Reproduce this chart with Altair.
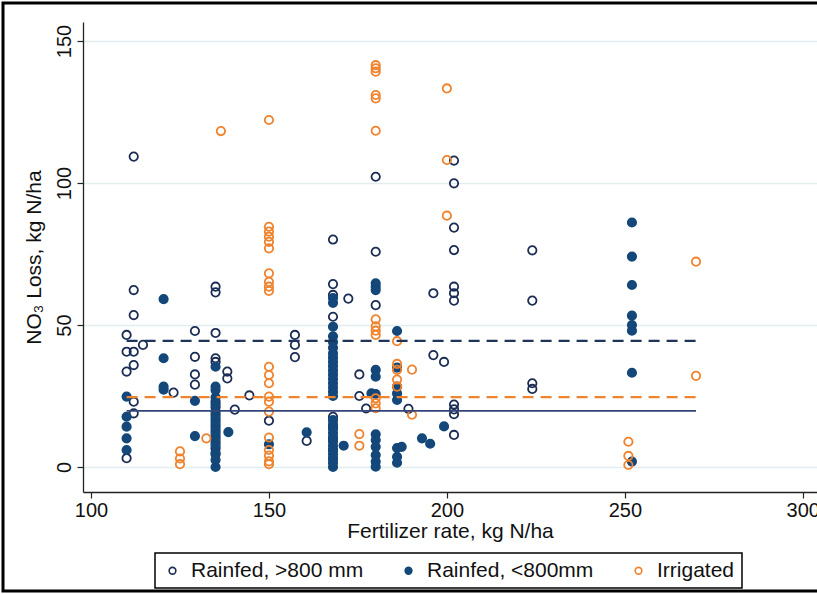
import altair as alt
import pandas as pd

# ---- data ----
rainfed_wet = [  # Rainfed, >800 mm (open navy)
    (110, 46.5), (110, 40.6), (110, 33.6), (110, 3.1),
    (112, 109.3), (112, 62.3), (112, 53.5), (112, 40.6), (112, 35.9), (112, 23.0), (112, 18.9),
    (114.6, 43.0), (123.2, 26.2),
    (129.2, 47.9), (129.2, 38.8), (129.2, 32.6), (129.2, 29.0),
    (135, 63.5), (135, 61.5), (135, 47.2), (135, 38.3), (135, 37.0), (135, 23.0), (135, 21.0),
    (135, 18.5), (135, 16.5), (135, 14.5), (135, 12.5), (135, 10.5), (135, 8.5), (135, 6.5), (135, 4.5),
    (138.3, 33.6), (138.3, 31.2), (140.4, 20.2), (144.5, 25.2), (150, 16.3),
    (157.3, 46.5), (157.3, 43.0), (157.3, 38.7), (160.6, 9.2),
    (168, 80.1), (168, 64.4), (168, 60.6), (168, 52.9), (168, 17.7), (168, 14.0), (168, 10.0), (168, 6.0), (168, 3.0),
    (172.3, 59.3), (175.4, 32.6), (175.4, 25.0), (177.3, 20.6),
    (180, 102.2), (180, 75.8), (180, 57.0), (189.2, 20.5),
    (196.2, 61.2), (196.2, 39.4), (199.2, 37.0),
    (202, 107.9), (202, 99.9), (202, 84.3), (202, 76.4), (202, 63.5), (202, 61.2), (202, 58.6),
    (202, 22.0), (202, 20.3), (202, 18.6), (202, 11.3),
    (224, 76.3), (224, 58.6), (224, 29.5), (224, 27.5),
]
rainfed_dry = [  # Rainfed, <800mm (filled navy)
    (110, 24.8), (110, 17.7), (110, 14.2), (110, 10.1), (110, 6.0),
    (120.4, 59.1), (120.4, 38.3), (120.4, 28.3), (120.4, 27.2),
    (129.2, 23.3), (129.2, 10.9),
    (135, 35.3), (135, 28.3), (135, 27.1), (135, 24.5), (135, 22.0), (135, 19.5), (135, 17.5),
    (135, 15.5), (135, 13.5), (135, 11.5), (135, 9.5), (135, 7.5), (135, 5.0), (135, 2.5), (135, 0.0),
    (138.6, 12.3), (150, 8.0), (160.6, 12.2),
    (168, 59.5), (168, 57.8), (168, 49.4), (168, 46.0), (168, 44.0), (168, 42.0), (168, 40.0),
    (168, 38.5), (168, 37.0), (168, 35.5), (168, 34.0), (168, 32.5), (168, 31.0), (168, 29.5),
    (168, 28.0), (168, 26.5), (168, 25.0), (168, 16.5), (168, 15.0), (168, 13.5), (168, 12.0),
    (168, 10.5), (168, 9.0), (168, 7.5), (168, 6.0), (168, 4.5), (168, 3.0), (168, 1.5), (168, 0.0),
    (171, 7.5), (178.8, 25.9),
    (180, 64.7), (180, 63.5), (180, 62.3), (180, 34.2), (180, 31.8), (180, 25.7),
    (180, 11.5), (180, 9.5), (180, 7.1), (180, 4.2), (180, 1.9), (180, 0.1),
    (186, 47.9), (186, 35.0), (186, 28.3), (186, 25.9), (186, 23.6), (186, 6.7), (186, 3.6), (186, 1.5),
    (187.3, 7.1), (193, 10.1), (195.3, 8.2), (199.2, 14.3),
    (252, 86.1), (252, 74.1), (252, 64.1), (252, 53.3), (252, 50.0), (252, 48.0), (252, 33.2), (252, 1.9),
]
irrigated = [  # Irrigated (open orange)
    (125, 5.5), (125, 3.0), (125, 1.0), (132.4, 10.1), (136.5, 118.3),
    (150, 122.2), (150, 84.6), (150, 82.9), (150, 81.1), (150, 79.3), (150, 77.0),
    (150, 68.2), (150, 65.2), (150, 63.5), (150, 62.0), (150, 35.3), (150, 32.4), (150, 29.5),
    (150, 24.8), (150, 23.0), (150, 19.5), (150, 10.4), (150, 6.0), (150, 4.0), (150, 2.0), (150, 1.0),
    (175.4, 11.6), (175.4, 7.5),
    (180, 141.5), (180, 140.4), (180, 139.2), (180, 131.0), (180, 129.8), (180, 118.4),
    (180, 52.0), (180, 49.5), (180, 48.0), (180, 46.5), (180, 24.2), (180, 22.4), (180, 20.7),
    (186, 44.3), (186, 36.3), (186, 34.2), (186, 30.8), (186, 28.3),
    (190.2, 34.3), (190.2, 18.4),
    (200, 133.3), (200, 108.1), (200, 88.5),
    (251, 8.9), (251, 3.9), (251, 0.7),
    (270, 72.3), (270, 32.1),
]
series_names = ["Rainfed, >800 mm", "Rainfed, <800mm", "Irrigated"]
stroke_colors = ["#1c2d55", "#14487a", "#f0832d"]
fill_colors = ["transparent", "#14487a", "transparent"]

# mean lines
line_names = ["wet_mean", "irr_mean", "dry_mean"]
line_y = [44.4, 24.6, 19.8]
line_x_start = [110, 110, 110]
line_x_end = [270, 270, 270]

x_ticks = [100, 150, 200, 250, 300]
y_ticks = [0, 50, 100, 150]

rows = []
for k, (name, pts) in enumerate(zip(series_names, [rainfed_wet, rainfed_dry, irrigated])):
    for xv, yv in pts:
        rows.append({"series": name, "rate": xv, "loss": yv, "order": k})
df = pd.DataFrame(rows)

lines_df = pd.DataFrame({"name": line_names, "y": line_y, "x1": line_x_start, "x2": line_x_end})

xscale = alt.Scale(domain=[97.75, 304], nice=False, zero=False)
yscale = alt.Scale(domain=[-8.8, 156.7], nice=False, zero=False)

FONT = "Liberation Sans"

xaxis = alt.Axis(values=x_ticks, title="Fertilizer rate, kg N/ha", grid=False,
                 labelFontSize=20, titleFontSize=21, titlePadding=0, labelPadding=2)
yaxis = alt.Axis(values=y_ticks, title="NO₃ Loss, kg N/ha", grid=True,
                 labelAngle=270, labelAlign="center", labelBaseline="bottom",
                 labelFontSize=20, titleFontSize=21, labelPadding=3, titlePadding=10)

points = alt.Chart(df).mark_point(shape="circle", size=70, strokeWidth=1.8, opacity=1, fillOpacity=1).encode(
    x=alt.X("rate:Q", scale=xscale, axis=xaxis),
    y=alt.Y("loss:Q", scale=yscale, axis=yaxis),
    stroke=alt.Stroke("series:N", scale=alt.Scale(domain=series_names, range=stroke_colors),
                      legend=alt.Legend(title=None)),
    fill=alt.Fill("series:N", scale=alt.Scale(domain=series_names, range=fill_colors),
                  legend=alt.Legend(title=None)),
    order=alt.Order("order:Q"),
)

def mean_line(name, color, dash, width):
    return alt.Chart(lines_df).transform_filter(alt.datum.name == name).mark_rule(
        color=color, strokeDash=dash, strokeWidth=width
    ).encode(x=alt.X("x1:Q", scale=xscale), x2="x2:Q", y=alt.Y("y:Q", scale=yscale))

l_wet = mean_line("wet_mean", "#1f3459", [11, 7], 2.3)
l_irr = mean_line("irr_mean", "#f0832d", [11, 7], 2.3)
l_dry = mean_line("dry_mean", "#33457a", [1, 0], 1.7)

frame = alt.Chart(pd.DataFrame({"a": [0]})).mark_rect(
    fill="transparent", stroke="black", strokeWidth=3
).encode(x=alt.value(-80), x2=alt.value(760), y=alt.value(-19), y2=alt.value(569))

chart = alt.layer(points, l_wet, l_irr, l_dry, frame).properties(
    width=734, height=470,
    autosize=alt.AutoSizeParams(type="none"),
    padding={"left": 83, "top": 22, "right": 0, "bottom": 102},
    background="white",
).configure_view(stroke=None).configure_axis(
    labelFont=FONT, titleFont=FONT, labelColor="#111", titleColor="#111",
    domainColor="#222", domainWidth=1.3, tickColor="#222", tickSize=6, tickWidth=1.2,
    gridColor="#e2eded", gridWidth=1.5, titleFontWeight="normal",
).configure_legend(
    orient="none", legendX=72, legendY=531, direction="horizontal",
    strokeColor="black", strokeWidth=1.5, fillColor="white", padding=7,
    labelFont=FONT, labelFontSize=21, labelColor="#111", labelLimit=400,
    symbolSize=45, symbolStrokeWidth=1.6, columnPadding=34, labelOffset=8,
)

chart.save("out.html", embed_options={"renderer": "svg", "actions": False})
